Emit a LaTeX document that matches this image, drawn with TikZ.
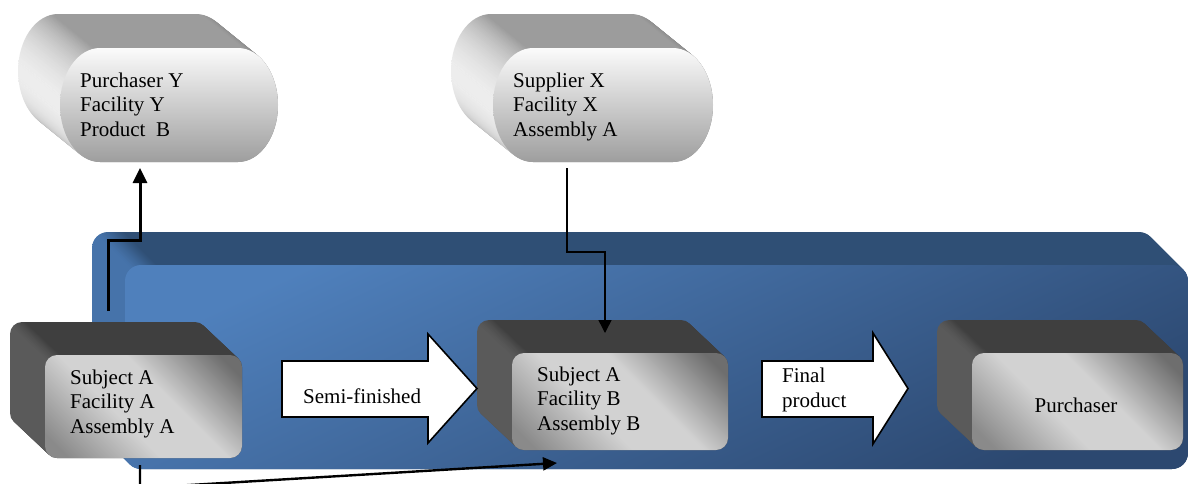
\documentclass[tikz,border=0pt]{standalone}
\usepackage{fontspec}
\setmainfont{Liberation Serif}
\usetikzlibrary{arrows.meta}

% palette
\definecolor{panelTop}{HTML}{2F4F75}
\definecolor{panelSide}{HTML}{4673AA}
\definecolor{panelHi}{HTML}{4F80BC}
\definecolor{panelLo}{HTML}{2C4870}
\definecolor{boxTop}{HTML}{3F3F3F}
\definecolor{boxSide}{HTML}{5A5A5A}
\definecolor{faceLight}{HTML}{D2D2D2}
\definecolor{faceDarkA}{HTML}{8A8A8A}
\definecolor{faceDarkB}{HTML}{6E6E6E}
\definecolor{capSideL}{HTML}{EDEDED}
\definecolor{capSideT}{HTML}{9C9C9C}
\definecolor{capSideR}{HTML}{757575}
\definecolor{capTop}{HTML}{FBFBFB}
\definecolor{capBottom}{HTML}{9E9E9E}

% side shadings for the extruded solids (left edge lighter than the top)
\pgfdeclarehorizontalshading{panelside}{100bp}{color(0bp)=(panelSide); color(25.3bp)=(panelSide); color(26.5bp)=(panelTop); color(100bp)=(panelTop)}
\pgfdeclarehorizontalshading{boxside}{100bp}{color(0bp)=(boxSide); color(25.5bp)=(boxSide); color(29bp)=(boxTop); color(100bp)=(boxTop)}
\pgfdeclarehorizontalshading{capside}{100bp}{color(0bp)=(capSideL); color(25bp)=(capSideL); color(33bp)=(capSideT); color(67bp)=(capSideT); color(75bp)=(capSideR); color(100bp)=(capSideR)}
% front face of the grey boxes: dark corners, light diagonal band
\pgfdeclareverticalshading{boxface}{100bp}{color(0bp)=(faceDarkA); color(20bp)=(faceDarkA); color(42bp)=(faceLight); color(58bp)=(faceLight); color(80bp)=(faceDarkB); color(100bp)=(faceDarkB)}

% capsule outline: x0 y0 x1 y1 rx ry
\newcommand\capsulepath[6]{(#1+#5,#2) -- (#3-#5,#2)
  arc[start angle=90,end angle=-90,x radius=#5pt,y radius=#6pt]
  -- (#1+#5,#4)
  arc[start angle=270,end angle=90,x radius=#5pt,y radius=#6pt] -- cycle}

% extruded capsule body: x0 y0 x1 y1 rx ry dx dy steps
\newcommand\extrudecapsule[9]{%
  \foreach \k in {0,...,#9}{%
    \path[shading=capside,shift={({-#7*(1-\k/#9)},{-#8*(1-\k/#9)})}]
      \capsulepath{#1}{#2}{#3}{#4}{#5}{#6};}}

% extruded rounded box body: x0 y0 x1 y1 radius dx dy shading steps
\newcommand\extrudebox[9]{%
  \foreach \k in {0,...,#9}{%
    \path[shading=#8,rounded corners=#5pt,shift={({-#6*(1-\k/#9)},{-#7*(1-\k/#9)})}]
      (#1,#2) rectangle (#3,#4);}}

\begin{document}
\begin{tikzpicture}[x=1pt,y=-1pt,
  font=\fontsize{21}{24.5}\selectfont,
  txt/.style={anchor=base west,inner sep=0pt,align=left},
  boxfront/.style={shading=boxface,shading angle=-45,rounded corners=12pt,inner sep=0pt},
  blockarrow/.style={draw=black,fill=white,line width=1.6pt,line join=miter},
  conn/.style={line width=3pt,-{Triangle[length=15pt,width=14pt]}},
  thinconn/.style={line width=1.5pt,-{Triangle[length=13pt,width=13pt]}},
  lowconn/.style={line width=2.4pt,-{Triangle[length=14pt,width=13pt]}}]
\useasboundingbox (0,0) rectangle (1189,483);

% ---- production panel ----
\extrudebox{125}{265}{1188}{469}{16}{33}{33}{panelside}{33}
\node[inner sep=0pt,minimum width=1063pt,minimum height=204pt,rounded corners=16pt,
      top color=panelHi,bottom color=panelLo,shading angle=25] (panel) at (656.5,367) {};

% ---- external partners (capsules) ----
% (multi-line labels are anchored on the baseline of their last line)
\extrudecapsule{60}{48}{278}{162}{40}{57}{42}{34}{42}
\path[top color=capTop,bottom color=capBottom] \capsulepath{60}{48}{278}{162}{40}{57};
\node[inner sep=0pt,minimum width=218pt,minimum height=114pt] (purY) at (169,105) {};
\node[txt] (purYtext) at (80,136) {Purchaser Y\\Facility Y\\Product~ B};

\extrudecapsule{493}{48}{713}{162}{40}{57}{42}{34}{42}
\path[top color=capTop,bottom color=capBottom] \capsulepath{493}{48}{713}{162}{40}{57};
\node[inner sep=0pt,minimum width=220pt,minimum height=114pt] (supX) at (603,105) {};
\node[txt] (supXtext) at (513,136) {Supplier X\\Facility X\\Assembly A};

% ---- facilities (grey boxes) ----
\extrudebox{45}{355}{242}{458}{12}{35}{33}{boxside}{35}
\node[boxfront,minimum width=197pt,minimum height=103pt] (subjA) at (143.5,406.5) {};
\node[txt] (subjAtext) at (70,433) {Subject A\\Facility A\\Assembly A};

\extrudebox{512}{353}{728}{450}{12}{35}{33}{boxside}{35}
\node[boxfront,minimum width=216pt,minimum height=97pt] (subjB) at (620,401.5) {};
\node[txt] (subjBtext) at (537,430) {Subject A\\Facility B\\Assembly B};

\extrudebox{972}{353}{1183}{450}{12}{35}{33}{boxside}{35}
\node[boxfront,minimum width=211pt,minimum height=97pt] (purch) at (1077.5,401.5) {};
\node[anchor=base,inner sep=0pt] (purchtext) at (1076,412) {Purchaser};

% ---- material flow ----
\draw[blockarrow] (282,361) -- (428,361) -- (428,334) -- (477,388.5) -- (428,443) -- (428,417) -- (282,417) -- cycle;
\node[txt] (semitext) at (303,403) {Semi-finished};
\draw[blockarrow] (762,361) -- (873,361) -- (873,333) -- (908,388.5) -- (873,444) -- (873,417) -- (762,417) -- cycle;
\node[txt] (finaltext) at (782,407) {Final\\product};

% ---- connectors ----
\coordinate (subjAup) at (108,311);
\coordinate (purYin) at (140,168);
\coordinate (supXout) at (567,168);
\coordinate (subjBin) at (605,333);
\coordinate (subjAdown) at (140,465);
\coordinate (subjBlow) at (557,463);

\draw[conn] (subjAup) -- ++(0,-71) -| (purYin);
\draw[thinconn] (supXout) -- ++(0,84) -| (subjBin);
\draw[lowconn] (subjAdown) -- ++(0,23) -- (subjBlow);
\end{tikzpicture}
\end{document}
